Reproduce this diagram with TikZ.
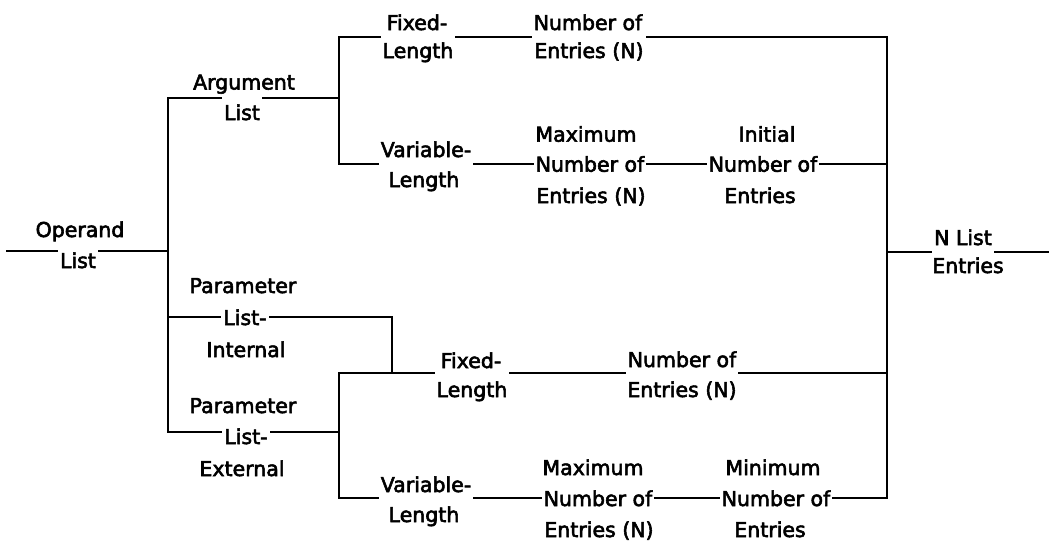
\documentclass[tikz,border=0pt]{standalone}
\usepackage{fontspec}
\newfontfamily\lbl{DejaVu Sans}[FakeBold=2.8]
\begin{document}
\begin{tikzpicture}[x=1pt,y=-1pt,
  t/.style={font=\lbl\fontsize{20.5}{30}\selectfont, inner xsep=3pt, inner ysep=0pt, anchor=base},
  conn/.style={line width=2.5pt, line join=miter, line cap=rect}]
\useasboundingbox (0,0) rectangle (1052,541);
% ---- labels ----
\node[t] (opU) at (80,237) {Operand};
\node[t] (opL) at (78,268) {List};
\node[t] (arU) at (244,89.5) {Argument};
\node[t] (arL) at (242,120) {List};
\node[t] (fxT) at (417,30) {Fixed-};
\node[t] (flT) at (418,58) {Length};
\node[t] (nuT) at (588,30) {Number of};
\node[t] (neT) at (589,58) {Entries (N)};
\node[t] (vaT) at (426,157) {Variable-};
\node[t] (vlT) at (424,187) {Length};
\node[t] (mxT) at (586,141.7) {Maximum};
\node[t] (mxN) at (590,171.7) {Number of};
\node[t] (mxE) at (591,203) {Entries (N)};
\node[t] (inT) at (767,141.7) {Initial};
\node[t] (inN) at (763,171.7) {Number of};
\node[t] (inE) at (760,203) {Entries};
\node[t] (nlN) at (963,245) {N List};
\node[t] (nlE) at (968,273) {Entries};
\node[t] (piP) at (243,293) {Parameter};
\node[t] (piL) at (245,325) {List-};
\node[t] (piI) at (246,357) {Internal};
\node[t] (peP) at (243,413) {Parameter};
\node[t] (peL) at (246,444) {List-};
\node[t] (peE) at (242,476) {External};
\node[t] (fxB) at (471,368) {Fixed-};
\node[t] (flB) at (472,397) {Length};
\node[t] (nuB) at (682,367) {Number of};
\node[t] (neB) at (682,397) {Entries (N)};
\node[t] (vaB) at (426,492) {Variable-};
\node[t] (vlB) at (424,522) {Length};
\node[t] (mxB) at (593,475) {Maximum};
\node[t] (mxBN) at (598,506) {Number of};
\node[t] (mxBE) at (599,537) {Entries (N)};
\node[t] (miM) at (773,475) {Minimum};
\node[t] (miN) at (776,506) {Number of};
\node[t] (miE) at (770,537) {Entries};
% ---- junctions ----
\coordinate (s0) at (7,251);
\coordinate (v1t) at (168,98);
\coordinate (v1m) at (168,251);
\coordinate (v1i) at (168,317);
\coordinate (v1b) at (168,432);
\coordinate (v2t) at (339,37);
\coordinate (v2m) at (339,98);
\coordinate (v2b) at (339,164);
\coordinate (v3t) at (392,317);
\coordinate (v3b) at (392,373);
\coordinate (v4t) at (339,373);
\coordinate (v4m) at (339,432);
\coordinate (v4b) at (339,498);
\coordinate (v5t) at (887,37);
\coordinate (v5a) at (887,164);
\coordinate (v5m) at (887,252);
\coordinate (v5c) at (887,373);
\coordinate (v5b) at (887,498);
\coordinate (e0) at (1048,252);
% ---- connectors ----
\draw[conn] (s0) -- (opL.west |- s0);
\draw[conn] (opL.east |- s0) -- (v1m);
\draw[conn] (arL.west |- v1t) -- (v1t) -- (v1b) -- (peL.west |- v1b);
\draw[conn] (arL.east |- v2m) -- (v2m);
\draw[conn] (v1i) -- (piL.west |- v1i);
\draw[conn] (piL.east |- v1i) -- (v3t) -- (v3b);
\draw[conn] (flT.west |- v2t) -- (v2t) -- (v2b) -- (vaT.west |- v2b);
\draw[conn] (flT.east |- v2t) -- (neT.west |- v2t);
\draw[conn] (neT.east |- v5t) -- (v5t) -- (v5b) -- (miN.east |- v5b);
\draw[conn] (vaT.east |- v2b) -- (mxN.west |- v2b);
\draw[conn] (mxN.east |- v2b) -- (inN.west |- v2b);
\draw[conn] (inN.east |- v5a) -- (v5a);
\draw[conn] (v5m) -- (nlN.west |- v5m);
\draw[conn] (nlN.east |- v5m) -- (e0);
\draw[conn] (peL.east |- v4m) -- (v4m);
\draw[conn] (flB.west |- v4t) -- (v4t) -- (v4b) -- (vaB.west |- v4b);
\draw[conn] (flB.east |- v4t) -- (nuB.west |- v4t);
\draw[conn] (nuB.east |- v5c) -- (v5c);
\draw[conn] (vaB.east |- v4b) -- (mxBN.west |- v4b);
\draw[conn] (mxBN.east |- v4b) -- (miN.west |- v4b);
\end{tikzpicture}
\end{document}
